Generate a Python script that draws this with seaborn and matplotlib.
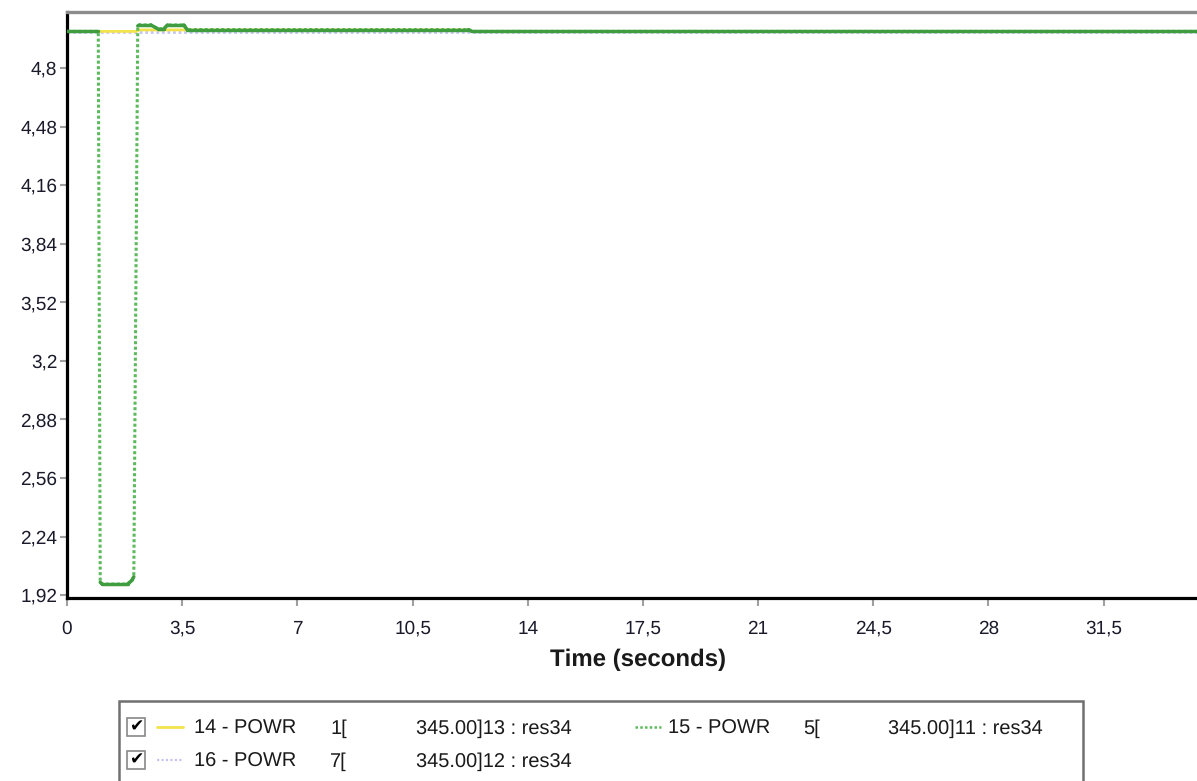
import numpy as np
import pandas as pd
import matplotlib
matplotlib.use("Agg")
import matplotlib.pyplot as plt
import seaborn as sns
from matplotlib.ticker import FixedLocator, FuncFormatter
from matplotlib.patches import Rectangle
from matplotlib.lines import Line2D

# Series 14 - POWR 1[345.00]13 : res34
t14 = [0.0, 2.1, 2.2, 12.2, 12.3, 34.7]
p14 = [5.0, 5.0, 5.008, 5.008, 5.0, 5.0]

# Series 15 - POWR 5[345.00]11 : res34
t15 = [0.0, 0.95, 1.01, 1.07, 1.84, 1.97, 2.03, 2.15, 2.2, 2.55, 2.75,
       2.95, 3.05, 3.55, 3.65, 12.2, 12.3, 34.7]
p15 = [5.0, 5.0, 1.99, 1.98, 1.98, 2.0, 2.02, 5.03, 5.035, 5.035, 5.015,
       5.015, 5.035, 5.035, 5.01, 5.01, 5.0, 5.0]

# Series 16 - POWR 7[345.00]12 : res34
t16 = [0.0, 34.7]
p16 = [4.997, 4.997]

y_ticks = [1.92, 2.24, 2.56, 2.88, 3.2, 3.52, 3.84, 4.16, 4.48, 4.8]
x_ticks = [0, 3.5, 7, 10.5, 14, 17.5, 21, 24.5, 28, 31.5]

legend_rows = [
    ("14 - POWR", "1[", "345.00]13 : res34"),
    ("15 - POWR", "5[", "345.00]11 : res34"),
    ("16 - POWR", "7[", "345.00]12 : res34"),
]

sns.set_style("white")
plt.rcParams["font.family"] = "Liberation Sans"
plt.rcParams["text.hinting"] = "no_hinting"
plt.rcParams["text.hinting_factor"] = 1

W, H = 1197, 781
fig = plt.figure(figsize=(W / 100, H / 100), dpi=100)
ax = fig.add_axes([67 / W, 183 / H, (W - 67) / W + 0.01, (598 - 12) / H])

YELLOW = "#f2e34a"
LAVENDER = "#c4c4f2"
GREEN_D = "#3f9c3f"
GREEN_L = "#5cba5c"

df16 = pd.DataFrame({"t": t16, "v": p16})
df14 = pd.DataFrame({"t": t14, "v": p14})
df15 = pd.DataFrame({"t": t15, "v": p15})

sns.lineplot(data=df16, x="t", y="v", ax=ax, color=LAVENDER, lw=2.0,
             linestyle=(0, (1, 1)), zorder=2, estimator=None, sort=False)
sns.lineplot(data=df14, x="t", y="v", ax=ax, color=YELLOW, lw=2.0,
             zorder=3, estimator=None, sort=False)
sns.lineplot(data=df15, x="t", y="v", ax=ax, color=GREEN_L, lw=2.2,
             linestyle=(0, (1.0, 0.8)), zorder=4, estimator=None, sort=False)
# flat stretches of series 15 render as a continuous stroke
tv, pv = np.asarray(t15), np.asarray(p15)
for i in range(len(tv) - 1):
    if abs(pv[i + 1] - pv[i]) < 0.1:
        ax.plot(tv[i:i + 2], pv[i:i + 2], color=GREEN_D, lw=2.5,
                solid_capstyle="round", zorder=5)

ax.set_xlim(0, 34.7)
ax.set_ylim(1.904, 5.106)

fmt = FuncFormatter(lambda v, p: ("%g" % round(v, 3)).replace(".", ","))
ax.yaxis.set_major_locator(FixedLocator(y_ticks))
ax.xaxis.set_major_locator(FixedLocator(x_ticks))
ax.yaxis.set_major_formatter(fmt)
ax.xaxis.set_major_formatter(fmt)
ax.tick_params(axis="y", direction="out", length=5, width=1.5, color="#a0a0a0",
               labelsize=13.5, labelcolor="#1a1a2a", pad=2, left=True)
ax.tick_params(axis="x", direction="out", length=6, width=1.5, color="#a0a0a0",
               labelsize=13.5, labelcolor="#1a1a2a", pad=10, bottom=True)

ax.set_xlabel("Time (seconds)", fontsize=17.5, fontweight="bold", labelpad=8,
              color="#1a1a1a")
ax.set_ylabel("")

for side in ("left", "bottom"):
    ax.spines[side].set_color("black")
    ax.spines[side].set_linewidth(2.3)
ax.spines["top"].set_color("#8c8c8c")
ax.spines["top"].set_linewidth(2.4)
ax.spines["right"].set_visible(False)

# legend panel
fx = lambda x: x / W
fy = lambda y: 1 - y / H
fig.patches.append(Rectangle((fx(119), fy(790)), fx(1083) - fx(119), fy(701) - fy(790),
                             transform=fig.transFigure, facecolor="white",
                             edgecolor="#707070", lw=1.8, zorder=1))

styles = {
    "14 - POWR": dict(color=YELLOW, lw=2.0, ls="-"),
    "15 - POWR": dict(color=GREEN_L, lw=1.8, ls=(0, (1.0, 0.9))),
    "16 - POWR": dict(color=LAVENDER, lw=1.6, ls=(0, (1, 1))),
}
# sample start, name x, node x, description x, row centre, checkbox
positions = {
    "14 - POWR": (157, 194, 330, 416, 727, True),
    "16 - POWR": (157, 194, 330, 416, 760, True),
    "15 - POWR": (635, 668, 803, 888, 727, False),
}
for name, node, desc in legend_rows:
    x0, xn, xd, xs, yc, box = positions[name]
    if box:
        fig.patches.append(Rectangle((fx(127), fy(yc + 9)), fx(18), 18 / H,
                                     transform=fig.transFigure, facecolor="white",
                                     edgecolor="#888888", lw=1.2, zorder=2))
        fig.text(fx(136), fy(yc), "\u2714", family="DejaVu Sans", fontsize=12,
                 ha="center", va="center", color="black", zorder=3)
    st = styles[name]
    fig.lines.append(Line2D([fx(x0), fx(x0 + 26)], [fy(yc), fy(yc)],
                            transform=fig.transFigure, color=st["color"],
                            lw=st["lw"], ls=st["ls"], zorder=3))
    ty = fy(yc + 2)
    fig.text(fx(xn), ty, name, fontsize=14.5, ha="left", va="center",
             color="#1a1a1a")
    fig.text(fx(xd), ty, node, fontsize=14.5, ha="left", va="center",
             color="#1a1a1a")
    fig.text(fx(xs), ty, desc, fontsize=14.5, ha="left", va="center",
             color="#1a1a1a")

fig.savefig("out.png", dpi=100)
